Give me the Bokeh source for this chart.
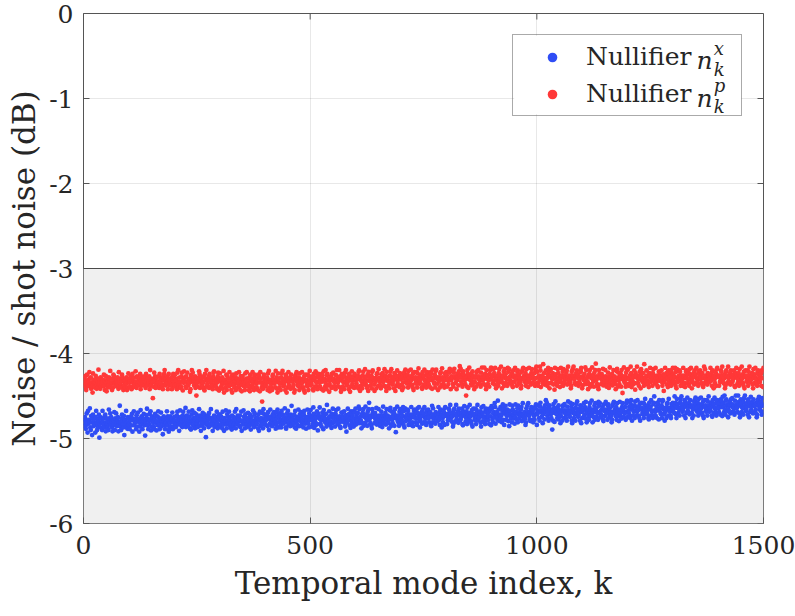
import numpy as np
from bokeh.plotting import figure
from bokeh.core.properties import value
from bokeh.models import (BoxAnnotation, Span, Legend, LegendItem,
                          FixedTicker, Range1d, ColumnDataSource)
from bokeh.embed import file_html
from bokeh.resources import INLINE

# Mean noise level of each block of 100 temporal modes (dB)
blue_level = [-4.81, -4.80, -4.79, -4.79, -4.78, -4.77, -4.76, -4.75,
              -4.74, -4.72, -4.70, -4.69, -4.67, -4.64, -4.63]
red_level = [-4.34, -4.33, -4.33, -4.34, -4.34, -4.33, -4.32, -4.31,
             -4.30, -4.29, -4.29, -4.30, -4.29, -4.29, -4.29]

# Mode-by-mode deviation from the block level, one letter per mode:
# 'm' is zero, each letter step is DEV_STEP dB, capitals add half a step.
DEV_STEP = 0.03
blue_dev = [
    "mKonJlPmiQ" "LnmRkjOmhN" "pKmlNioQmj" "KnMpgLokNm" "jQmNlkOpIm" "NlkMjrNmPl" "oMkInlMqjN" "lPmKnoIlmS" "KmjNpMlkOh" "nMlQkmJoNl",
    "LjnMoKpiMn" "qKmLnjOmkP" "MniLkQmoNj" "lMpKnGmlOr" "KnjMlpMqIk" "oNmLkjNpmL" "ImoKqNljMn" "PkmLhNomKj" "mLnqKoMijN" "LokMnPjmLk",
    "NmkJloPmnK" "iMqlNkmJoP" "LnmKrJmoNl" "kPmNjlImOq" "MknLpjMnOk" "lJmnQkoMiL" "NkpMljOnmF" "KmNloJpMkn" "QlmKinMoJl" "mNkPljMoNk",
    "OkmNljPmKi" "nLmqKjOmNl" "PmkNljIomN" "kMlPnjQmKo" "LnMkoJmPiL" "mKqNljOmnK" "JmpLnkOmIl" "NmKqlJpOmn" "KlMnjOimPk" "MnlKpjQmOn",
    "LkmNoJpMin" "KqmLnJomKp" "NmlIkpMqNj" "lOmNkjPmLo" "KmnQljImOn" "PkMlnJomRk" "mNlKojPmIn" "LkMqnJomLp" "kNmLjoPmKn" "ImLqnKjOmN",
    "PmjLnkQoIm" "lJnMpkHoMn" "QmkLjnOmiP" "NlmKojRmKl" "MpnJlkIoMq" "KnlMjoPnMk" "LqmKnjImOl" "OnMlpKjmNh" "KmqLnoJmIp" "lNkMpjOmKq",
    "JnmLokQmPk" "MliNkoPjMn" "kQmNljOmPs" "LnkMjiPoMn" "MkoLnqJmKl" "PnMjklOmIn" "QkmLnoJmPl" "nMkiLpqMjO" "LknMojPmGn" "mQlKnjOmPk",
    "NlkMqjOiPm" "KmnLpOjmKn" "LjqMnkImOp" "mNkLojPmNq" "KilMnoJpMk" "NqmLkjOmNp" "LmkNojImQk" "PnLmkJomLn" "KmqNljOpMi" "nLkMojPqMn",
    "MjnKlpOmQn" "LkmNijOpMk" "nQlMkoJpMn" "KlmNpjIoMq" "NmkLojPnMk" "lQmNkjOiMp" "MnlKpjOmQn" "KmLnoJiPmk" "NqmLkjOpNm" "lKmNjpOmIq",
    "OkjMnlQpIm" "MnkRloJmKp" "LmjNqkOiMn" "PkmLonJmHq" "NmKljPomKn" "IlqMnkOjPm" "KnmLopJmQk" "MlnKijOmPn" "QmLknJopMk" "NjmLkpOqMi",
    "LnpMkjOqMn" "KmiLnoJpMr" "NqlMkjOpNm" "LkmFnjPoIm" "QnmLkoJpMn" "KilMnjOpMk" "PnmLkjOmQn" "LmKqnOjiPm" "NkmLjoPmQn" "KlmNjpOiMk",
    "MnkPloJqMi" "LmnKjoPmKn" "QliMnkOjPm" "NkmLjqOmPk" "MlnKojIpMn" "KqmLnjOpMk" "NlmKijOmPq" "LnmKojPmKn" "ImqLnkJoPm" "NkmLojPmQk",
    "PmlNkjOqMi" "NkmLojPmNk" "LqmNkjOiMp" "MnlKpjOmQn" "KmlNojIpMk" "NqmLkjOpRm" "LkmNjpOmIq" "MnlKojPqMn" "KimLnjOpMk" "QnmLkjOmNp",
    "LmkQnoJiPm" "NkmLjoPmQn" "KlmNjpOiMk" "NqlMkoJpMn" "MkiLnjOpMq" "NlmKojPnMk" "LqmNkjOiMp" "MnlKpjOmQn" "KmlNojIpMk" "NqmLkjOpNm",
    "LkmNjpOmIq" "NmkQljOpMn" "KilMnoJpMk" "PnmLkjOmQn" "LmkQnoJiMp" "NkmLjoPmQn" "KlmNjpOiMk" "NqlMkoJpMn" "MklNijOpMq" "NlmKojPnMk",
]
red_dev = [
    "NlmOkjMpLn" "KmqNloJmKi" "PmnLkmOnJl" "MkrNlmJoKn" "LmnKpMjlOm" "InkMloNmQk" "LmjNkpOmLn" "KmnLomJqKm" "NlkMpoNjMl" "MknLojMkPn",
    "LmkNojMpLk" "NmkLqmJoNl" "KmnLpjMoKn" "MlnKomJpMl" "KnmLojQmKn" "LmFknPmoJl" "NkmLmoJpKn" "MlkNjoMpQl" "KnmLojMpKn" "LmnKjoMpLm",
    "OknMljPmQk" "NlmJkoPmIn" "LqmNkoJmPl" "KmnLijOmQn" "PnmKloJmGn" "LkmNqpJoMl" "NmkLojIpMn" "QklMnoJpMk" "LnmKjoPqMl" "MknLjoPmIn",
    "PknMloJmQi" "MnkLpjOmNl" "KqmNljOiMp" "NlkMojPmNk" "LmqKnjOmIl" "OnmKljPmNq" "KmlNjoIpMk" "NlqMkjOpNm" "LkmNjpOmIq" "NmkElJopMn",
    "KlnMojPmQk" "InmLkjOpMn" "LmkQnoJiPm" "NkmLjoPmQn" "KlmNjpOiMk" "NqlMkoJpMn" "MklNijOpMq" "NlmKojPnMk" "LqmNkjOiMp" "MnlKpjOmQn",
    "KmlNojIpMk" "NqmLkjOpNm" "LkmNjpOmIq" "MnkQljOpMn" "KilMnoJpMk" "PnmLkjOmQn" "LmkQnoJiMp" "NkmLjoPmQn" "KlmNjpOiMk" "NqlMkoJpMn",
    "MlkNojPqMi" "NkmLjoPmKn" "QlmNkjOiPm" "NmkLojPqMn" "KimLnjOpMk" "QnmLkjOmNp" "LmkQnoJiPm" "NkmLjoPmQn" "KlmNjpOiMk" "NqlMkoJpMn",
    "MkiNljOpMq" "NlmKojPnMk" "LqmNkjOiMp" "MnlKpjOmQn" "KmlNojIpMk" "NqmLkjOpNm" "LkmNjpOmIq" "MnlKojPqMn" "KimLnjOpMk" "QnmLkjOmNp",
    "NjmLkpOqMi" "LnpMkjOqMn" "KmiLnoJpMr" "NqlMkjOpNm" "LkmFnjPoIm" "QnmLkoJpMn" "KilMnjOpMk" "PnmLkjOmQn" "LmkQnoJiPm" "NkmLjoPmQn",
    "MnkPloJqMi" "LmnKjoPmKn" "QliMnkOjPm" "NkmLjqOmPk" "MlnKojIpMn" "KqmLnjOpMk" "NlmKijOmPq" "LnmKojPmKn" "ImqLnkJoPm" "NkmLojPmQk",
    "OkjMnlQpIm" "MnkRloJmKp" "LmjNqkOiMn" "PkmLonJmHq" "NmKljPomKn" "IlqMnkOjPm" "KnmLopJmQk" "MlnKijOmPn" "QmLknJopMk" "NjmLkpOqMi",
    "JnmLokQmPk" "MliNkoPjMn" "kQmNljOmPs" "LnkMjiPoMn" "MkoLnqJmKl" "PnMjklOmIn" "QkmLnoJmPl" "nMkiLpqMjO" "LknMojPmGn" "mQlKnjOmPk",
    "PmjLnkQoIm" "lJnMpkHoMn" "QmkLjnOmiP" "NlmKojRmKl" "MpnJlkIoMq" "KnlMjoPnMk" "LqmKnjImOl" "OnMlpKjmNh" "KmqLnoJmIp" "lNkMpjOmKq",
    "NlkMqjOiPm" "KmnLpOjmKn" "LjqMnkImOp" "mNkLojPmNq" "KilMnoJpMk" "NqmLkjOmNp" "LmkNojImQk" "PnLmkJomLn" "KmqNljOpMi" "nLkMojPqMn",
    "MjnKlpOmQn" "LkmNijOpMk" "nQlMkoJpMn" "KlmNpjIoMq" "NmkLojPnMk" "lQmNkjOiMp" "MnlKpjOmQn" "KmLnoJiPmk" "NqmLkjOpNm" "lKmNjpOmIq",
]

x_ticks = [0, 500, 1000, 1500]
y_ticks = [0, -1, -2, -3, -4, -5, -6]
y_tick_labels = ["0", "-1", "-2", "-3", "-4", "-5", "-6"]
x_lim = (0, 1500)
y_lim = (-6, 0)
threshold_db = -3

series_names = ["Nullifier", "Nullifier"]
# math suffix of each legend entry: base letter, superscript, subscript
math_base = ["n", "n"]
math_sup = ["x", "p"]
math_sub = ["k", "k"]

blue = "#2f4df5"
red = "#ff3838"
frame_gray = "#555555"
text_color = "#262626"
serif = "DejaVu Serif"


def decode(levels, devs):
    vals = []
    for lev, s in zip(levels, devs):
        for c in s:
            step = ord(c.lower()) - ord("m") + (0.5 if c.isupper() else 0.0)
            vals.append(lev + step * DEV_STEP)
    return np.array(vals)


nx = decode(blue_level, blue_dev)
npv = decode(red_level, red_dev)
n = min(len(nx), len(npv))
src = ColumnDataSource(dict(k=np.arange(1, n + 1), nx=nx[:n], np_=npv[:n]))

p = figure(width=795, height=616, x_range=Range1d(*x_lim), y_range=Range1d(*y_lim),
           output_backend="svg", toolbar_location=None,
           min_border_left=83, min_border_right=32, min_border_top=13, min_border_bottom=93)
p.background_fill_color = "white"
p.border_fill_color = "white"
p.outline_line_color = frame_gray
p.outline_line_width = 1

# shaded region below the -3 dB threshold
band = BoxAnnotation(top=threshold_db, fill_color="#f0f0f0", fill_alpha=1.0,
                     line_color=None, level="image")
p.add_layout(band)

for g in (p.xgrid, p.ygrid):
    g.grid_line_color = "#000000"
    g.grid_line_alpha = 0.09
    g.grid_line_width = 1
p.xgrid.ticker = FixedTicker(ticks=x_ticks)
p.ygrid.ticker = FixedTicker(ticks=y_ticks)

p.add_layout(Span(location=threshold_db, dimension="width", line_color="#4a4a4a",
                  line_width=1.2))

r_x = p.scatter("k", "nx", source=src, size=4.8, color=blue, line_color=None)
r_p = p.scatter("k", "np_", source=src, size=4.8, color=red, line_color=None)

overrides = {t: lab for t, lab in zip(y_ticks, y_tick_labels)}
for ax in (p.xaxis[0], p.yaxis[0]):
    ax.axis_line_color = None
    ax.major_tick_in = 6
    ax.major_tick_out = 0
    ax.major_tick_line_color = frame_gray
    ax.minor_tick_line_color = None
    ax.major_label_text_font = serif
    ax.major_label_text_font_size = "25px"
    ax.major_label_text_color = text_color
    ax.axis_label_text_font = serif
    ax.axis_label_text_font_size = "31px"
    ax.axis_label_text_font_style = "normal"
    ax.axis_label_text_color = text_color
p.xaxis[0].ticker = FixedTicker(ticks=x_ticks)
p.yaxis[0].ticker = FixedTicker(ticks=y_ticks)
p.yaxis[0].major_label_overrides = overrides
p.xaxis[0].axis_label = "Temporal mode index, k"
p.yaxis[0].axis_label = "Noise / shot noise (dB)"
p.xaxis[0].major_label_standoff = 12
p.yaxis[0].major_label_standoff = 10
p.xaxis[0].axis_label_standoff = 8
p.yaxis[0].axis_label_standoff = 4

# inward tick marks on the right and top sides of the box
p.ray(x=[x_lim[1]] * len(y_ticks), y=y_ticks, length=6, length_units="screen",
      angle=np.pi, line_color=frame_gray, line_width=1)
p.ray(x=x_ticks, y=[y_lim[1]] * len(x_ticks), length=6, length_units="screen",
      angle=-np.pi / 2, line_color=frame_gray, line_width=1)

# white backing of the legend box (keeps grid lines out of it)
p.quad(left=[950], right=[1451], top=[-0.262], bottom=[-1.185],
       fill_color="white", line_color=None)

legend = Legend(items=[LegendItem(label=series_names[0], renderers=[r_x]),
                       LegendItem(label=series_names[1], renderers=[r_p])],
                location="top_right", margin=21, padding=7, spacing=8,
                glyph_width=64, glyph_height=24, label_height=24, label_width=148,
                label_standoff=2, label_text_font=serif, label_text_font_size="25px",
                label_text_color=text_color,
                border_line_color=frame_gray, border_line_width=1,
                background_fill_alpha=0.0)
p.add_layout(legend)

# italic n with stacked sub/superscripts after each legend label (data units,
# anchored at the top of each text)
math_x = 1352          # start of the italic n
script_x = 1390        # start of the stacked sub/superscripts
row_top = [-0.388, -0.824]   # top of the italic n in the two legend rows
p.text(x=[math_x] * 2, y=row_top, text=math_base,
       text_font=value(serif), text_font_style="italic", text_font_size="25px",
       text_color=text_color, text_baseline="top")
p.text(x=[script_x] * 2, y=[yt + 0.10 for yt in row_top], text=math_sup,
       text_font=value(serif), text_font_style="italic", text_font_size="18px",
       text_color=text_color, text_baseline="top")
p.text(x=[script_x] * 2, y=[yt - 0.147 for yt in row_top], text=math_sub,
       text_font=value(serif), text_font_style="italic", text_font_size="18px",
       text_color=text_color, text_baseline="top")

open("out.html", "w").write(file_html(p, INLINE))
